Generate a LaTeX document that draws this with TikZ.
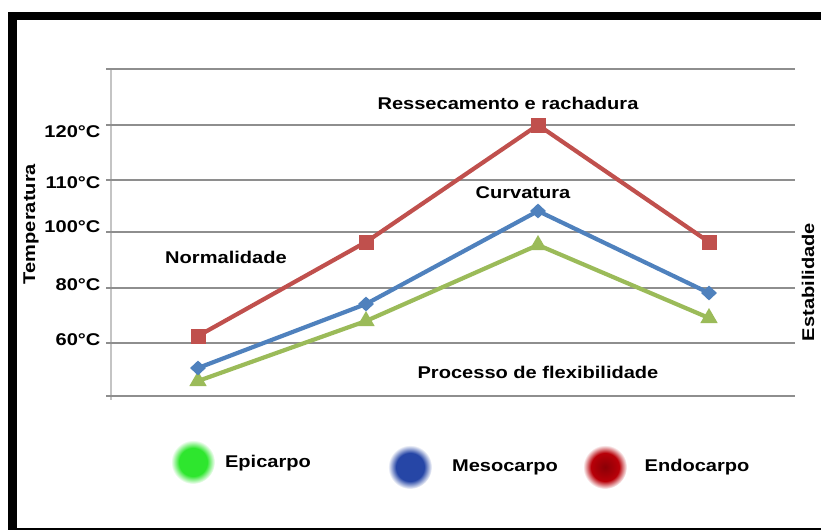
\documentclass[tikz,border=0pt]{standalone}
\usepackage{fontspec}
\setmainfont[FakeStretch=1.18]{Liberation Sans}
\usepackage{tikz}
\usetikzlibrary{shapes.geometric}

\definecolor{redline}{HTML}{C0504D}
\definecolor{blueline}{HTML}{4F81BD}
\definecolor{greenline}{HTML}{9BBB59}
\definecolor{gridgray}{HTML}{8E8E8E}
\definecolor{axisgray}{HTML}{C4C4C4}
\definecolor{epigreen}{HTML}{2EE62E}
\definecolor{mesoblue}{HTML}{2646A6}
\definecolor{endored}{HTML}{B80008}

\pgfdeclareradialshading{greendot}{\pgfpoint{0bp}{0bp}}{color(0bp)=(epigreen); color(16bp)=(epigreen); color(25bp)=(white); color(50bp)=(white)}
\pgfdeclareradialshading{bluedot}{\pgfpoint{0bp}{0bp}}{color(0bp)=(mesoblue); color(16bp)=(mesoblue); color(25bp)=(white); color(50bp)=(white)}
\pgfdeclareradialshading{reddot}{\pgfpoint{0bp}{0bp}}{color(0bp)=(endored!75!black); color(16bp)=(endored); color(25bp)=(white); color(50bp)=(white)}

\begin{document}
\begin{tikzpicture}[x=1pt,y=-1pt,
    every node/.style={font=\fontsize{17}{19}\selectfont\bfseries},
    gridline/.style={draw=gridgray,line width=1.5pt},
    dataline/.style={line width=4.2pt,line join=round},
    sq/.style={rectangle,fill=redline,minimum size=15pt,inner sep=0pt},
    dia/.style={diamond,fill=blueline,minimum width=16pt,minimum height=15pt,inner sep=0pt},
    tri/.style={regular polygon,regular polygon sides=3,fill=greenline,minimum size=20pt,inner sep=0pt},
    blob/.style={circle,minimum size=44pt,inner sep=0pt}]
  \useasboundingbox (0,0) rectangle (821,530);

  % frame
  \fill (8,12) rectangle (17,530);
  \fill (8,12) rectangle (821,20);
  \fill (17,528) rectangle (821,530);

  % legend dots (under everything else)
  \node[blob,shading=greendot] (GD) at (193,462) {};
  \node[blob,shading=bluedot] (BD) at (410,467) {};
  \node[blob,shading=reddot] (RD) at (605,467) {};

  % grid
  \draw[draw=axisgray,line width=1.5pt] (111,69) -- (111,400);
  \draw[gridline] (106,69) -- (795,69);
  \draw[gridline] (106,125) -- (795,125);
  \draw[gridline] (106,180) -- (795,180);
  \draw[gridline] (106,232) -- (795,232);
  \draw[gridline] (106,288) -- (795,288);
  \draw[gridline] (106,343) -- (795,343);
  \draw[gridline] (106,396) -- (795,396);

  \node[anchor=east] (T120) at (104,132) {120°C};
  \node[anchor=east] (T110) at (104,183) {110°C};
  \node[anchor=east] (T100) at (104,227) {100°C};
  \node[anchor=east] (T80) at (104,285) {80°C};
  \node[anchor=east] (T60) at (104,340) {60°C};

  \node[rotate=90] (TEMP) at (31,224) {Temperatura};
  \node[rotate=90] (EST) at (808,282) {Estabilidade};

  % data points
  \coordinate (R1) at (198,336);
  \coordinate (R2) at (366,242);
  \coordinate (R3) at (538,125);
  \coordinate (R4) at (709,242);
  \coordinate (B1) at (198,368);
  \coordinate (B2) at (366,304);
  \coordinate (B3) at (538,211);
  \coordinate (B4) at (709,293);
  \coordinate (G1) at (198,381);
  \coordinate (G2) at (366,321);
  \coordinate (G3) at (538,245);
  \coordinate (G4) at (709,318);

  \draw[dataline,greenline] (G1) -- (G2) -- (G3) -- (G4);
  \draw[dataline,blueline] (B1) -- (B2) -- (B3) -- (B4);
  \draw[dataline,redline] (R1) -- (R2) -- (R3) -- (R4);

  \node[tri] (GM1) at (G1) {};
  \node[tri] (GM2) at (G2) {};
  \node[tri] (GM3) at (G3) {};
  \node[tri] (GM4) at (G4) {};
  \node[dia] (BM1) at (B1) {};
  \node[dia] (BM2) at (B2) {};
  \node[dia] (BM3) at (B3) {};
  \node[dia] (BM4) at (B4) {};
  \node[sq] (RM1) at (R1) {};
  \node[sq] (RM2) at (R2) {};
  \node[sq] (RM3) at (R3) {};
  \node[sq] (RM4) at (R4) {};

  % stage labels
  \node (RESS) at (508,103) {Ressecamento e rachadura};
  \node (CURV) at (523,193) {Curvatura};
  \node (NORM) at (226,257) {Normalidade};
  \node (PROC) at (538,372) {Processo de flexibilidade};

  % legend
  \node (EPI) at (268,463) {Epicarpo};
  \node (MESO) at (505,467) {Mesocarpo};
  \node (ENDO) at (697,467) {Endocarpo};
\end{tikzpicture}
\end{document}
